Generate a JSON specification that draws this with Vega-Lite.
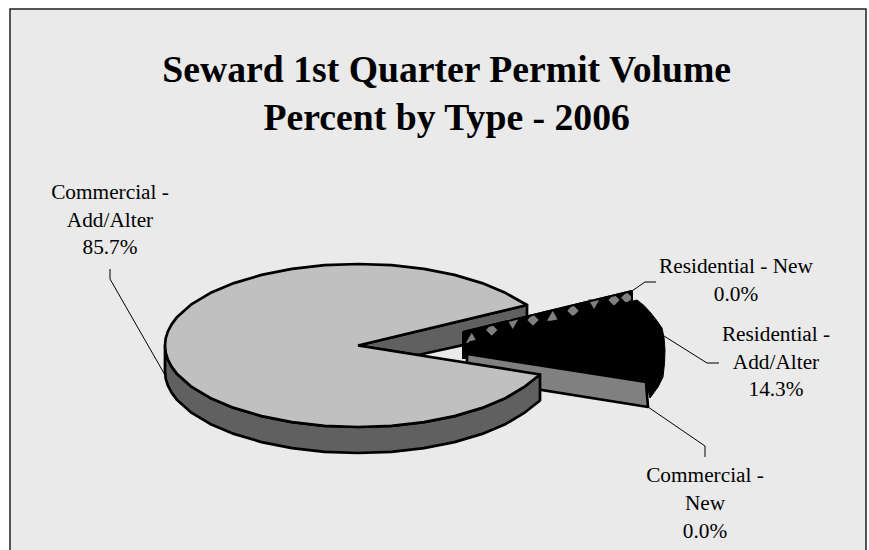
{"$schema":"https://vega.github.io/schema/vega-lite/v6.json","width":869,"height":550,"autosize":{"type":"fit","contains":"padding"},"padding":0,"background":"white","view":{"stroke":null},
"datasets":{
"panel":[{"x1":-348,"x2":508,"y1":336.5,"y2":-230}],
"outlines":[
{"part":"innerWall","i":1,"x":0,"y":0},{"part":"innerWall","i":2,"x":169,"y":40.5},{"part":"innerWall","i":3,"x":169,"y":14.5},{"part":"innerWall","i":4,"x":60,"y":-9.5},{"part":"innerWall","i":5,"x":0,"y":0},
{"part":"resNew","i":1,"x":105,"y":13.5},{"part":"resNew","i":2,"x":274,"y":54.5},{"part":"resNew","i":3,"x":274,"y":40.5},{"part":"resNew","i":4,"x":111,"y":-12.5},{"part":"resNew","i":5,"x":105,"y":-12.5},{"part":"resNew","i":6,"x":105,"y":13.5},
{"part":"resAdd","i":1,"x":111,"y":3.5},{"part":"resAdd","i":2,"x":279,"y":45.5},{"part":"resAdd","i":3,"x":286,"y":40},{"part":"resAdd","i":4,"x":292,"y":33.5},{"part":"resAdd","i":5,"x":298,"y":26},{"part":"resAdd","i":6,"x":304,"y":17.5},{"part":"resAdd","i":7,"x":306,"y":8},{"part":"resAdd","i":8,"x":307,"y":-4.5},{"part":"resAdd","i":9,"x":306.5,"y":-18},{"part":"resAdd","i":10,"x":305,"y":-31.5},{"part":"resAdd","i":11,"x":300,"y":-41.5},{"part":"resAdd","i":12,"x":292,"y":-52.5},{"part":"resAdd","i":13,"x":288,"y":-37.5},{"part":"resAdd","i":14,"x":111,"y":-8.5},{"part":"resAdd","i":15,"x":111,"y":3.5},
{"part":"comNew","i":1,"x":109,"y":-8.5},{"part":"comNew","i":2,"x":288,"y":-36.5},{"part":"comNew","i":3,"x":290,"y":-61.5},{"part":"comNew","i":4,"x":109,"y":-32.5},{"part":"comNew","i":5,"x":109,"y":-8.5},
{"part":"outerWall","i":1,"x":-193,"y":0},{"part":"outerWall","i":2,"x":-192.3,"y":-7.1},{"part":"outerWall","i":3,"x":-190.1,"y":-14.2},{"part":"outerWall","i":4,"x":-186.4,"y":-21.1},{"part":"outerWall","i":5,"x":-181.4,"y":-27.9},{"part":"outerWall","i":6,"x":-167.1,"y":-40.8},{"part":"outerWall","i":7,"x":-147.8,"y":-52.4},{"part":"outerWall","i":8,"x":-124.1,"y":-62.4},{"part":"outerWall","i":9,"x":-96.5,"y":-70.6},{"part":"outerWall","i":10,"x":-66,"y":-76.6},{"part":"outerWall","i":11,"x":-33.5,"y":-80.3},{"part":"outerWall","i":12,"x":0,"y":-81.5},{"part":"outerWall","i":13,"x":33.5,"y":-80.3},{"part":"outerWall","i":14,"x":66,"y":-76.6},{"part":"outerWall","i":15,"x":96.5,"y":-70.6},{"part":"outerWall","i":16,"x":124.1,"y":-62.4},{"part":"outerWall","i":17,"x":147.8,"y":-52.4},{"part":"outerWall","i":18,"x":167.1,"y":-40.8},{"part":"outerWall","i":19,"x":182,"y":-29},{"part":"outerWall","i":20,"x":182,"y":-55},{"part":"outerWall","i":21,"x":167.1,"y":-66.8},{"part":"outerWall","i":22,"x":147.8,"y":-78.4},{"part":"outerWall","i":23,"x":124.1,"y":-88.4},{"part":"outerWall","i":24,"x":96.5,"y":-96.6},{"part":"outerWall","i":25,"x":66,"y":-102.6},{"part":"outerWall","i":26,"x":33.5,"y":-106.3},{"part":"outerWall","i":27,"x":0,"y":-107.5},{"part":"outerWall","i":28,"x":-33.5,"y":-106.3},{"part":"outerWall","i":29,"x":-66,"y":-102.6},{"part":"outerWall","i":30,"x":-96.5,"y":-96.6},{"part":"outerWall","i":31,"x":-124.1,"y":-88.4},{"part":"outerWall","i":32,"x":-147.8,"y":-78.4},{"part":"outerWall","i":33,"x":-167.1,"y":-66.8},{"part":"outerWall","i":34,"x":-181.4,"y":-53.9},{"part":"outerWall","i":35,"x":-186.4,"y":-47.1},{"part":"outerWall","i":36,"x":-190.1,"y":-40.2},{"part":"outerWall","i":37,"x":-192.3,"y":-33.1},{"part":"outerWall","i":38,"x":-193,"y":-26},{"part":"outerWall","i":39,"x":-193,"y":0},
{"part":"top","i":1,"x":0,"y":0},{"part":"top","i":2,"x":169,"y":40.5},{"part":"top","i":3,"x":147.8,"y":52.4},{"part":"top","i":4,"x":124.1,"y":62.4},{"part":"top","i":5,"x":96.5,"y":70.6},{"part":"top","i":6,"x":66,"y":76.6},{"part":"top","i":7,"x":33.5,"y":80.3},{"part":"top","i":8,"x":0,"y":81.5},{"part":"top","i":9,"x":-33.5,"y":80.3},{"part":"top","i":10,"x":-66,"y":76.6},{"part":"top","i":11,"x":-96.5,"y":70.6},{"part":"top","i":12,"x":-124.1,"y":62.4},{"part":"top","i":13,"x":-147.8,"y":52.4},{"part":"top","i":14,"x":-167.1,"y":40.8},{"part":"top","i":15,"x":-181.4,"y":27.9},{"part":"top","i":16,"x":-186.4,"y":21.1},{"part":"top","i":17,"x":-190.1,"y":14.2},{"part":"top","i":18,"x":-192.3,"y":7.1},{"part":"top","i":19,"x":-193,"y":0},{"part":"top","i":20,"x":-192.3,"y":-7.1},{"part":"top","i":21,"x":-190.1,"y":-14.2},{"part":"top","i":22,"x":-186.4,"y":-21.1},{"part":"top","i":23,"x":-181.4,"y":-27.9},{"part":"top","i":24,"x":-167.1,"y":-40.8},{"part":"top","i":25,"x":-147.8,"y":-52.4},{"part":"top","i":26,"x":-124.1,"y":-62.4},{"part":"top","i":27,"x":-96.5,"y":-70.6},{"part":"top","i":28,"x":-66,"y":-76.6},{"part":"top","i":29,"x":-33.5,"y":-80.3},{"part":"top","i":30,"x":0,"y":-81.5},{"part":"top","i":31,"x":33.5,"y":-80.3},{"part":"top","i":32,"x":66,"y":-76.6},{"part":"top","i":33,"x":96.5,"y":-70.6},{"part":"top","i":34,"x":124.1,"y":-62.4},{"part":"top","i":35,"x":147.8,"y":-52.4},{"part":"top","i":36,"x":167.1,"y":-40.8},{"part":"top","i":37,"x":182,"y":-29},{"part":"top","i":38,"x":0,"y":0}
],
"pattern":[
{"x":113.7,"y":7.8,"kind":"up"},{"x":133.7,"y":15.5,"kind":"cross"},{"x":154.7,"y":21.5,"kind":"down"},{"x":175,"y":25.5,"kind":"blob"},{"x":194.7,"y":29.8,"kind":"up"},{"x":215,"y":34.8,"kind":"cross"},{"x":236,"y":41.5,"kind":"down"},{"x":256,"y":45.5,"kind":"blob"},{"x":268.7,"y":47.8,"kind":"cross"}
],
"leaders":[
{"to":"Commercial Add/Alter","i":1,"x":-248,"y":76.5},{"to":"Commercial Add/Alter","i":2,"x":-248,"y":66.5},{"to":"Commercial Add/Alter","i":3,"x":-193,"y":-29.5},
{"to":"Residential New","i":1,"x":274,"y":54.5},{"to":"Residential New","i":2,"x":287,"y":63.5},{"to":"Residential New","i":3,"x":298,"y":63.5},
{"to":"Residential Add/Alter","i":1,"x":306,"y":9.5},{"to":"Residential Add/Alter","i":2,"x":349,"y":-17.5},{"to":"Residential Add/Alter","i":3,"x":361,"y":-17.5},
{"to":"Commercial New","i":1,"x":290,"y":-61.5},{"to":"Commercial New","i":2,"x":347,"y":-100.5},{"to":"Commercial New","i":3,"x":347,"y":-111.5}
],
"labels":[
{"x":-248,"y":152.5,"text":"Commercial -"},{"x":-248,"y":124.8,"text":"Add/Alter"},{"x":-248,"y":97.5,"text":"85.7%"},
{"x":378,"y":78.5,"text":"Residential - New"},{"x":378,"y":50.5,"text":"0.0%"},
{"x":418,"y":10.5,"text":"Residential -"},{"x":418,"y":-17.5,"text":"Add/Alter"},{"x":418,"y":-44.5,"text":"14.3%"},
{"x":347,"y":-130.5,"text":"Commercial -"},{"x":347,"y":-158.5,"text":"New"},{"x":347,"y":-186.5,"text":"0.0%"}
],
"titleLines":[{"x":88.7,"y":274.5,"text":"Seward 1st Quarter Permit Volume"},{"x":88.7,"y":227,"text":"Percent by Type - 2006"}]
},
"encoding":{
"x":{"type":"quantitative","scale":{"domain":[-358,511],"nice":false,"zero":false},"axis":null},
"y":{"type":"quantitative","scale":{"domain":[-204.5,345.5],"nice":false,"zero":false},"axis":null}
},
"layer":[
{"data":{"name":"panel"},"mark":{"type":"rect","fill":"#eaeaea","stroke":"#222222","strokeWidth":1.5,"clip":true},"encoding":{"x":{"field":"x1","type":"quantitative"},"x2":{"field":"x2"},"y":{"field":"y1","type":"quantitative"},"y2":{"field":"y2"}}},
{"data":{"name":"outlines"},"transform":[{"filter":"datum.part==='innerWall'"}],"mark":{"type":"line","fill":"#606060","stroke":"black","strokeWidth":2.7,"strokeJoin":"round"},"encoding":{"x":{"field":"x","type":"quantitative"},"y":{"field":"y","type":"quantitative"},"order":{"field":"i","type":"quantitative"}}},
{"data":{"name":"outlines"},"transform":[{"filter":"datum.part==='resNew'"}],"mark":{"type":"line","fill":"black","stroke":"black","strokeWidth":2,"strokeJoin":"round"},"encoding":{"x":{"field":"x","type":"quantitative"},"y":{"field":"y","type":"quantitative"},"order":{"field":"i","type":"quantitative"}}},
{"data":{"name":"pattern"},"mark":{"type":"point","filled":true,"color":"#808080","opacity":1},"encoding":{"x":{"field":"x","type":"quantitative"},"y":{"field":"y","type":"quantitative"},"shape":{"field":"kind","type":"nominal","scale":{"domain":["up","down","blob","cross"],"range":["triangle-up","triangle-down","diamond","diamond"]},"legend":null},"size":{"field":"kind","type":"nominal","scale":{"domain":["up","down","blob","cross"],"range":[130,130,130,22]},"legend":null}}},
{"data":{"name":"outlines"},"transform":[{"filter":"datum.part==='resNew'"}],"mark":{"type":"line","stroke":"black","strokeWidth":2,"strokeJoin":"round"},"encoding":{"x":{"field":"x","type":"quantitative"},"y":{"field":"y","type":"quantitative"},"order":{"field":"i","type":"quantitative"}}},
{"data":{"name":"outlines"},"transform":[{"filter":"datum.part==='resAdd'"}],"mark":{"type":"line","fill":"black","stroke":"black","strokeWidth":1,"strokeJoin":"round"},"encoding":{"x":{"field":"x","type":"quantitative"},"y":{"field":"y","type":"quantitative"},"order":{"field":"i","type":"quantitative"}}},
{"data":{"name":"outlines"},"transform":[{"filter":"datum.part==='comNew'"}],"mark":{"type":"line","fill":"#808080","stroke":"black","strokeWidth":2.7,"strokeJoin":"round"},"encoding":{"x":{"field":"x","type":"quantitative"},"y":{"field":"y","type":"quantitative"},"order":{"field":"i","type":"quantitative"}}},
{"data":{"name":"outlines"},"transform":[{"filter":"datum.part==='outerWall'"}],"mark":{"type":"line","fill":"#606060","stroke":"black","strokeWidth":2.7,"strokeJoin":"round"},"encoding":{"x":{"field":"x","type":"quantitative"},"y":{"field":"y","type":"quantitative"},"order":{"field":"i","type":"quantitative"}}},
{"data":{"name":"outlines"},"transform":[{"filter":"datum.part==='top'"}],"mark":{"type":"line","fill":"#c0c0c0","stroke":"black","strokeWidth":2.7,"strokeJoin":"round"},"encoding":{"x":{"field":"x","type":"quantitative"},"y":{"field":"y","type":"quantitative"},"order":{"field":"i","type":"quantitative"}}},
{"data":{"name":"leaders"},"mark":{"type":"line","stroke":"black","strokeWidth":1},"encoding":{"x":{"field":"x","type":"quantitative"},"y":{"field":"y","type":"quantitative"},"detail":{"field":"to"},"order":{"field":"i","type":"quantitative"}}},
{"data":{"name":"labels"},"mark":{"type":"text","font":"Liberation Serif","fontSize":21.3,"color":"black","align":"center","baseline":"middle"},"encoding":{"x":{"field":"x","type":"quantitative"},"y":{"field":"y","type":"quantitative"},"text":{"field":"text"}}},
{"data":{"name":"titleLines"},"mark":{"type":"text","font":"Liberation Serif","fontSize":37.7,"fontWeight":"bold","color":"black","align":"center","baseline":"middle"},"encoding":{"x":{"field":"x","type":"quantitative"},"y":{"field":"y","type":"quantitative"},"text":{"field":"text"}}}
]}
